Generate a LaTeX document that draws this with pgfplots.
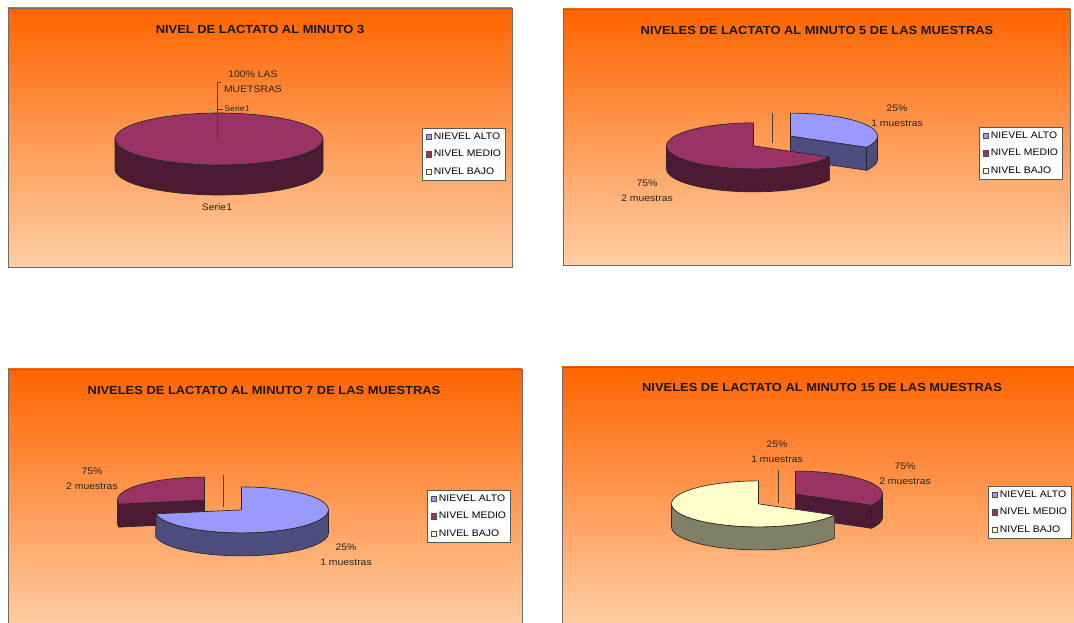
\documentclass[border=0pt]{standalone}
\usepackage{pgfplots}
\pgfplotsset{compat=1.18}
\usepackage{fontspec}
\setmainfont{Liberation Sans}[FakeStretch=1.1]

\definecolor{altotop}{HTML}{9999FF}
\definecolor{altoside}{HTML}{4D4D80}
\definecolor{mediotop}{HTML}{993366}
\definecolor{medioside}{HTML}{4D1A33}
\definecolor{bajotop}{HTML}{FFFFCC}
\definecolor{bajoside}{HTML}{808066}
\definecolor{bgtop}{RGB}{255,100,0}
\definecolor{bgbot}{RGB}{255,206,165}
\colorlet{edgecol}{black!85}

% ---- geometry helpers: outlines computed before each axis, drawn by \addplot in the axis' units (= reference pixels) ----
\newcommand\pzarc[6]{% cx cy rx ry tfrom tto : appends points to \pzpts
  \foreach \pzi in {0,...,60}{%
    \pgfmathsetmacro\pzang{(#5)+((#6)-(#5))*(\pzi/60)}%
    \pgfmathsetmacro\pzpx{(#1)+(#3)*cos(\pzang)}%
    \pgfmathsetmacro\pzpy{(#2)+(#4)*sin(\pzang)}%
    \xdef\pzpts{\pzpts(\pzpx,\pzpy)}%
  }%
}
\newcommand\pzstore[1]{%
  \xdef\piecmds{\unexpanded\expandafter{\piecmds}\noexpand\addplot[forget plot, fill=#1, draw=edgecol, line width=0.5pt, line join=round] coordinates {\pzpts};}}
% \pieslice{start %}{end %}{top colour}{side colour}
\newcommand\pieslice[4]{%
  \pgfmathsetmacro\pzthA{3.6*(#1)}%
  \pgfmathsetmacro\pzthB{3.6*(#2)}%
  \pgfmathsetmacro\pzthM{(\pzthA+\pzthB)/2}%
  \pgfmathsetmacro\pzcx{\pcx+\pk*\prx*cos(90-\pzthM)}%
  \pgfmathsetmacro\pzcy{0-\pcy+\pk*\pry*sin(90-\pzthM)}%
  \pgfmathsetmacro\pzcyd{\pzcy-\pd}%
  \pgfmathsetmacro\pzkB{\pzthB<180 ? 29 : 10}%
  \pgfmathsetmacro\pzkA{\pzthA<180 ? 29 : 10}%
  \pgfmathsetmacro\pztA{90-\pzthB-\pzkB*sin(\pzthB)}%
  \pgfmathsetmacro\pztB{90-\pzthA-\pzkA*sin(\pzthA)}%
  \pgfmathtruncatemacro\pzfull{(#2)-(#1)>99.9 ? 1 : 0}%
  \pgfmathsetmacro\pzcA{cos(\pztA)}%
  \pgfmathsetmacro\pzcB{cos(\pztB)}%
  \pgfmathtruncatemacro\pzvisA{\pzcA>0.05 ? 1 : 0}%
  \pgfmathtruncatemacro\pzvisB{\pzcB<-0.05 ? 1 : 0}%
  \ifnum\pzfull=1 \def\pzvisA{0}\def\pzvisB{0}\fi
  \ifnum\pzvisA=1
    \pgfmathsetmacro\pzxa{\pzcx+\prx*\pzcA}%
    \pgfmathsetmacro\pzya{\pzcy+\pry*sin(\pztA)}%
    \pgfmathsetmacro\pzyad{\pzya-\pd}%
    \xdef\pzpts{(\pzcx,\pzcy)(\pzxa,\pzya)(\pzxa,\pzyad)(\pzcx,\pzcyd)(\pzcx,\pzcy)}%
    \pzstore{#4}%
  \fi
  \ifnum\pzvisB=1
    \pgfmathsetmacro\pzxa{\pzcx+\prx*\pzcB}%
    \pgfmathsetmacro\pzya{\pzcy+\pry*sin(\pztB)}%
    \pgfmathsetmacro\pzyad{\pzya-\pd}%
    \xdef\pzpts{(\pzcx,\pzcy)(\pzxa,\pzya)(\pzxa,\pzyad)(\pzcx,\pzcyd)(\pzcx,\pzcy)}%
    \pzstore{#4}%
  \fi
  \pgfmathsetmacro\pzfA{max(\pztA,-180)}%
  \pgfmathsetmacro\pzfB{min(\pztB,0)}%
  \pgfmathtruncatemacro\pzvisS{\pzfB>\pzfA+0.5 ? 1 : 0}%
  \ifnum\pzvisS=1
    \gdef\pzpts{}%
    \pzarc{\pzcx}{\pzcy}{\prx}{\pry}{\pzfA}{\pzfB}%
    \pzarc{\pzcx}{\pzcyd}{\prx}{\pry}{\pzfB}{\pzfA}%
    \pgfmathsetmacro\pzxa{\pzcx+\prx*cos(\pzfA)}%
    \pgfmathsetmacro\pzya{\pzcy+\pry*sin(\pzfA)}%
    \xdef\pzpts{\pzpts(\pzxa,\pzya)}%
    \pzstore{#4}%
  \fi
  \ifnum\pzfull=1 \gdef\pzpts{}\else \xdef\pzpts{(\pzcx,\pzcy)}\fi
  \pzarc{\pzcx}{\pzcy}{\prx}{\pry}{\pztA}{\pztB}%
  \ifnum\pzfull=1 \else \xdef\pzpts{\pzpts(\pzcx,\pzcy)}\fi
  \pzstore{#3}%
}

\tikzset{
  ttl/.style={font=\bfseries\fontsize{8.8}{10}\selectfont, text=black!90, inner sep=0pt},
  lbl/.style={font=\fontsize{7.1}{11}\selectfont, text=black!85, align=center, inner sep=0pt},
  leader/.style={draw=black!75, line width=0.5pt},
}
\pgfplotsset{
  panel/.style={
    scale only axis, anchor=north west,
    xtick=\empty, ytick=\empty,
    axis line style={draw=gray!85!black, line width=0.6pt},
    axis background/.style={top color=bgtop, bottom color=bgbot},
    legend cell align=left,
    legend style={draw=gray!70!black, line width=0.5pt, fill=white,
      font=\fontsize{7.1}{8}\selectfont, inner xsep=2.5pt, inner ysep=2.5pt,
      row sep=5.2pt, column sep=1.5pt,
      nodes={inner sep=0.6pt, text height=5.3pt, text depth=1.3pt}},
    legend image code/.code={\draw[##1, draw=gray!60!black, line width=0.3pt] (0pt,-1.9pt) rectangle (3.8pt,1.9pt);},
  },
}

\begin{document}
\begin{tikzpicture}
\path[use as bounding box] (0pt,0pt) rectangle (805.5pt,-467.25pt);
\clip (0pt,0pt) rectangle (805.5pt,-467.25pt);

% ---------------- Minuto 3: NIVEL MEDIO 100 % ----------------
\gdef\piecmds{}
\def\pcx{219}\def\pcy{139}\def\prx{104}\def\pry{26}\def\pd{30}\def\pk{0}
\pieslice{0}{100}{mediotop}{medioside}
\begin{axis}[panel, at={(6pt,-6pt)}, xmin=8, xmax=512, ymin=-267, ymax=-8,
  width=378pt, height=194.25pt,
  legend style={at={(axis cs:422,-128)}, anchor=north west}]
\addlegendimage{fill=altotop}
\addlegendimage{fill=mediotop}
\addlegendimage{fill=bajotop}
\legend{NIEVEL ALTO, NIVEL MEDIO, NIVEL BAJO}
\piecmds
\addplot[forget plot, leader] coordinates {(221,-82) (217,-82) (217,-140)};
\addplot[forget plot, leader] coordinates {(217,-109) (223,-109)};
\node[ttl] at (axis cs:260,-29) {NIVEL DE LACTATO AL MINUTO 3};
\node[lbl] at (axis cs:253,-82) {100\% LAS\\MUETSRAS};
\node[lbl, font=\fontsize{6}{7}\selectfont] at (axis cs:237,-109) {Serie1};
\node[lbl] at (axis cs:217,-207) {Serie1};
\end{axis}

% ---------------- Minuto 5: ALTO 25 %, MEDIO 75 % ----------------
\gdef\piecmds{}
\def\pcx{772}\def\pcy{141}\def\prx{87}\def\pry{23}\def\pd{23}\def\pk{0.3}
\pieslice{0}{25}{altotop}{altoside}
\pieslice{25}{100}{mediotop}{medioside}
\begin{axis}[panel, at={(422.25pt,-6.75pt)}, xmin=563, xmax=1070, ymin=-265, ymax=-9,
  width=380.25pt, height=192pt,
  legend style={at={(axis cs:979,-127)}, anchor=north west}]
\addlegendimage{fill=altotop}
\addlegendimage{fill=mediotop}
\addlegendimage{fill=bajotop}
\legend{NIEVEL ALTO, NIVEL MEDIO, NIVEL BAJO}
\piecmds
\addplot[forget plot, leader] coordinates {(772,-113) (772,-143)};
\node[ttl] at (axis cs:817,-30) {NIVELES DE LACTATO AL MINUTO 5 DE LAS MUESTRAS};
\node[lbl] at (axis cs:897,-115.5) {25\%\\1 muestras};
\node[lbl] at (axis cs:647,-190.5) {75\%\\2 muestras};
\end{axis}

% ---------------- Minuto 7 (slices as drawn in the reference) ----------------
\gdef\piecmds{}
\def\pcx{223}\def\pcy{505}\def\prx{87}\def\pry{23}\def\pd{23}\def\pk{0.3}
\pieslice{75}{100}{mediotop}{medioside}
\pieslice{0}{75}{altotop}{altoside}
\begin{axis}[panel, at={(6pt,-276.75pt)}, xmin=8, xmax=522, ymin=-629, ymax=-369,
  width=385.5pt, height=195pt,
  legend style={at={(axis cs:427,-490)}, anchor=north west}]
\addlegendimage{fill=altotop}
\addlegendimage{fill=mediotop}
\addlegendimage{fill=bajotop}
\legend{NIEVEL ALTO, NIVEL MEDIO, NIVEL BAJO}
\piecmds
\addplot[forget plot, leader] coordinates {(223,-475) (223,-507)};
\node[ttl] at (axis cs:264,-390) {NIVELES DE LACTATO AL MINUTO 7 DE LAS MUESTRAS};
\node[lbl] at (axis cs:92,-478.5) {75\%\\2 muestras};
\node[lbl] at (axis cs:346,-555) {25\%\\1 muestras};
\end{axis}

% ---------------- Minuto 15 (slices as drawn in the reference) ----------------
\gdef\piecmds{}
\def\pcx{777}\def\pcy{499}\def\prx{87}\def\pry{23}\def\pd{23}\def\pk{0.3}
\pieslice{0}{25}{mediotop}{medioside}
\pieslice{25}{100}{bajotop}{bajoside}
\begin{axis}[panel, at={(421.5pt,-275.25pt)}, xmin=562, xmax=1082, ymin=-627, ymax=-367,
  width=390pt, height=195pt,
  legend style={at={(axis cs:988,-486)}, anchor=north west}]
\addlegendimage{fill=altotop}
\addlegendimage{fill=mediotop}
\addlegendimage{fill=bajotop}
\legend{NIEVEL ALTO, NIVEL MEDIO, NIVEL BAJO}
\piecmds
\addplot[forget plot, leader] coordinates {(778,-470) (778,-503)};
\node[ttl] at (axis cs:822,-387) {NIVELES DE LACTATO AL MINUTO 15 DE LAS MUESTRAS};
\node[lbl] at (axis cs:777,-452) {25\%\\1 muestras};
\node[lbl] at (axis cs:905,-474) {75\%\\2 muestras};
\end{axis}
\end{tikzpicture}
\end{document}
